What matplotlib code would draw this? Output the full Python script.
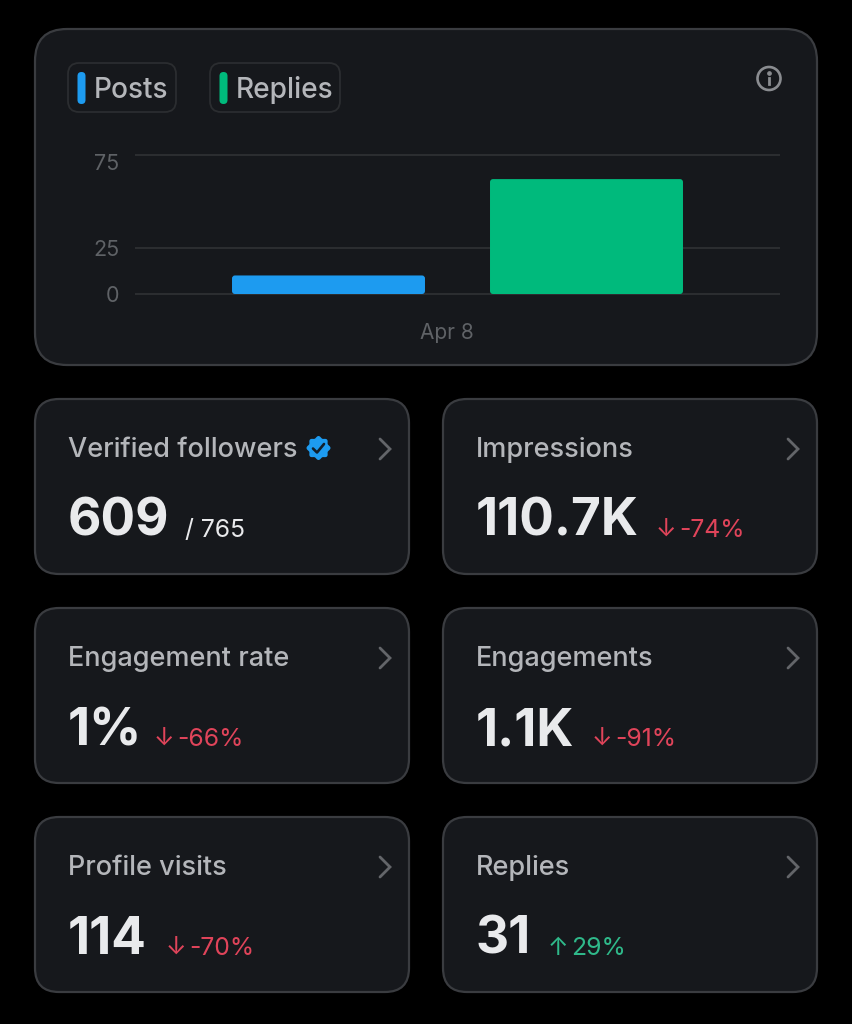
import numpy as np
import matplotlib
matplotlib.use("Agg")
import matplotlib.pyplot as plt
from matplotlib.patches import FancyBboxPatch, Circle, Polygon
from matplotlib.transforms import Affine2D, ScaledTranslation

plt.rcParams['font.family'] = ['Inter', 'DejaVu Sans']

# chart data
series_names = ['Posts', 'Replies']
series_values = [10, 62]
series_colors = ['#1d9bf0', '#00ba7c']
y_ticks = [0, 25, 75]
date_label = 'Apr 8'

# stat cards
card_titles = ['Verified followers', 'Impressions', 'Engagement rate', 'Engagements', 'Profile visits', 'Replies']
card_values = ['609', '110.7K', '1%', '1.1K', '114', '31']
card_notes = ['/ 765', '-74%', '-66%', '-91%', '-70%', '29%']
card_arrows = ['', '↓', '↓', '↓', '↓', '↑']

# where the note starts in each card (pixels)
note_x = [185, 656, 154, 592, 166, 548]
card_left = [35, 443]
card_top = [399, 608, 817]

BG = '#000000'
PANEL = '#16181c'
EDGE = '#3a3c40'
GRID = '#2b2d30'
LABEL = '#b4b6ba'
MUTED = '#5f6266'
WHITE = '#e9eaec'
RED = '#e0445a'
GREEN = '#2fb98a'

fig = plt.figure(figsize=(8.52, 10.24), dpi=100, facecolor=BG)

# full-figure axes in pixel coordinates for the cards
bg = fig.add_axes([0, 0, 1, 1], zorder=0)
bg.set_xlim(0, 852)
bg.set_ylim(1024, 0)
bg.axis('off')


def rounded(ax, x, y, w, h, r, fc, ec, lw=1.6, zorder=1):
    box = FancyBboxPatch((x + r, y + r), w - 2 * r, h - 2 * r,
                         boxstyle=f'round,pad={r},rounding_size={r}',
                         fc=fc, ec=ec, lw=lw, zorder=zorder)
    ax.add_patch(box)
    return box


def badge(ax, cx, cy, r):
    # scalloped verified badge
    t = np.linspace(0, 2 * np.pi, 200)
    rad = r * (1 + 0.09 * np.cos(8 * t))
    ax.add_patch(Polygon(np.c_[cx + rad * np.cos(t), cy + rad * np.sin(t)], fc='#1d9bf0', ec='none', zorder=3))
    ax.plot([cx - 5.5, cx - 1.5, cx + 5.5], [cy + 0.5, cy + 4.5, cy - 4], color='#12202c', lw=1.9, zorder=4,
            solid_capstyle='round', solid_joinstyle='round')


# top panel
rounded(bg, 35, 29, 782, 336, 32, PANEL, EDGE)

# legend chips
chip_x = [68, 210]
chip_w = [108, 130]
for name, color, x, w in zip(series_names, series_colors, chip_x, chip_w):
    rounded(bg, x, 63, w, 49, 11, PANEL, GRID, lw=1.3, zorder=2)
    rounded(bg, x + 9.5, 72, 8, 32, 4, color, 'none', lw=0, zorder=3)
    bg.text(x + 25.5, 97.5, name, color=LABEL, fontsize=20.2, fontweight='medium', va='baseline', ha='left', zorder=3)

# info icon
bg.add_patch(Circle((769, 78.5), 11.5, fc='none', ec='#8a8c90', lw=1.9, zorder=3))
bg.plot([769, 769], [77.5, 84], color='#8a8c90', lw=2, zorder=3)
bg.plot([769], [72.5], 'o', color='#8a8c90', ms=2.4, zorder=3)

# bar chart, placed so the value scale lands on the gridlines
ax = fig.add_axes([135 / 852, (1024 - 294) / 1024, 645 / 852, 139 / 1024], zorder=1)
ax.patch.set_alpha(0)
ax.set_xlim(-0.75, 1.75)
ax.set_ylim(0, 74.7)
ax.set_yticks(y_ticks)
ax.set_xticks([0.46])
ax.set_xticklabels([date_label])
ax.tick_params(axis='both', length=0)
ax.tick_params(axis='y', pad=11, labelcolor=MUTED, labelsize=15.5)
ax.tick_params(axis='x', pad=21, labelcolor=MUTED, labelsize=15)
for s in ax.spines.values():
    s.set_visible(False)
ax.grid(axis='y', color=GRID, lw=1.5, zorder=0, clip_on=False, solid_capstyle='butt')
ax.set_axisbelow(True)

# y labels sit a little under their gridlines, the top one well under it
label_drop = {0: 2, 25: 2, 75: 9}
for tick_val, lbl in zip(y_ticks, ax.get_yticklabels()):
    lbl.set_va('center')
    lbl.set_transform(lbl.get_transform() + ScaledTranslation(0, -label_drop[tick_val] / 100, fig.dpi_scale_trans))

bars = ax.bar(range(len(series_values)), series_values, width=0.748, color=series_colors, zorder=3)

# round the bar corners with a clip box in pixels
fig.canvas.draw()
r = 3
for b in bars:
    ext = b.get_window_extent()
    clip = FancyBboxPatch((ext.x0 + r, ext.y0 + r), ext.width - 2 * r, ext.height - 2 * r,
                          boxstyle=f'round,pad={r},rounding_size={r}',
                          transform=Affine2D(), fc='none', ec='none')
    b.set_clip_path(clip)

# stat cards
for i, title in enumerate(card_titles):
    x = card_left[i % 2]
    y = card_top[i // 2]
    h = 175
    rounded(bg, x, y, 374, h, 24, PANEL, EDGE)
    bg.text(x + 33, y + 58, title, color=LABEL, fontsize=19.5, fontweight='medium', va='baseline', ha='left', zorder=3)
    bg.text(x + 33, y + 137, card_values[i], color=WHITE, fontsize=37, fontweight='bold', va='baseline', ha='left', zorder=3)
    # chevron
    cx = x + 345
    bg.plot([cx, cx + 10, cx], [y + 40, y + 50, y + 60], color='#636569', lw=2, zorder=3,
            solid_capstyle='round', solid_joinstyle='miter')
    if card_arrows[i]:
        color = RED if card_arrows[i] == '↓' else GREEN
        gap = 23
        bg.text(note_x[i], y + 138, card_arrows[i], color=color, fontsize=17.8, va='baseline', ha='left', zorder=3)
        bg.text(note_x[i] + gap, y + 138, card_notes[i], color=color, fontsize=17.8, va='baseline', ha='left', zorder=3)
    else:
        bg.text(note_x[i], y + 138, card_notes[i], color=WHITE, fontsize=17.8, va='baseline', ha='left', zorder=3)

badge(bg, 318.5, 448, 11)

fig.savefig('out.png', dpi=100, facecolor=BG)
